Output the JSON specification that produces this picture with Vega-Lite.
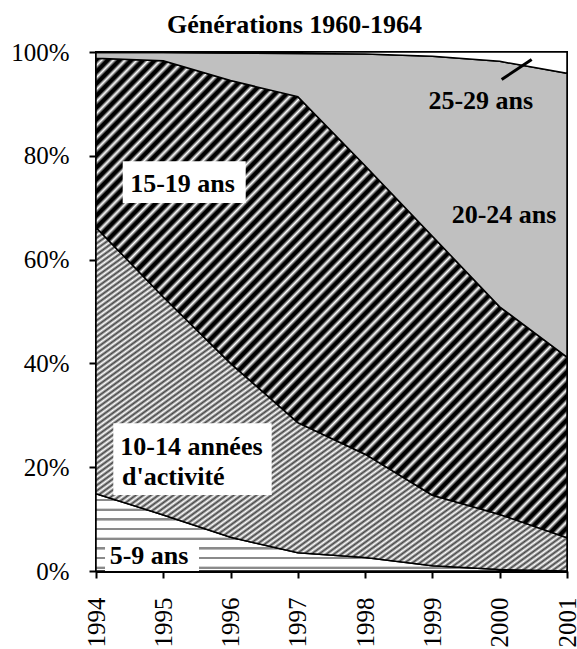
{
  "$schema": "https://vega.github.io/schema/vega-lite/v6.json",
  "width": 471,
  "height": 519,
  "autosize": {"type": "none"},
  "padding": {"left": 96, "top": 52, "right": 10, "bottom": 78},
  "background": "#ffffff",
  "title": {"text": "Générations 1960-1964", "font": "Liberation Serif", "fontSize": 26, "fontWeight": "bold", "color": "#000", "anchor": "middle", "dx": -37, "offset": -24, "baseline": "bottom"},
  "config": {
    "view": {"stroke": "#000", "strokeWidth": 2},
    "axis": {"labelFont": "Liberation Serif", "labelFontSize": 25, "labelColor": "#000", "domainColor": "#000", "tickColor": "#000", "grid": false}
  },
  "datasets": {
    "parts": [
      {"year": 1994, "group": "5-9 ans", "rang": 1, "share": 14.9},
      {"year": 1994, "group": "10-14 ans", "rang": 2, "share": 51.3},
      {"year": 1994, "group": "15-19 ans", "rang": 3, "share": 32.6},
      {"year": 1994, "group": "20-24 ans", "rang": 4, "share": 1.1},
      {"year": 1994, "group": "25-29 ans", "rang": 5, "share": 0.1},
      {"year": 1995, "group": "5-9 ans", "rang": 1, "share": 10.8},
      {"year": 1995, "group": "10-14 ans", "rang": 2, "share": 42.0},
      {"year": 1995, "group": "15-19 ans", "rang": 3, "share": 45.5},
      {"year": 1995, "group": "20-24 ans", "rang": 4, "share": 1.6},
      {"year": 1995, "group": "25-29 ans", "rang": 5, "share": 0.1},
      {"year": 1996, "group": "5-9 ans", "rang": 1, "share": 6.5},
      {"year": 1996, "group": "10-14 ans", "rang": 2, "share": 33.5},
      {"year": 1996, "group": "15-19 ans", "rang": 3, "share": 54.5},
      {"year": 1996, "group": "20-24 ans", "rang": 4, "share": 5.3},
      {"year": 1996, "group": "25-29 ans", "rang": 5, "share": 0.2},
      {"year": 1997, "group": "5-9 ans", "rang": 1, "share": 3.5},
      {"year": 1997, "group": "10-14 ans", "rang": 2, "share": 25.1},
      {"year": 1997, "group": "15-19 ans", "rang": 3, "share": 62.8},
      {"year": 1997, "group": "20-24 ans", "rang": 4, "share": 8.3},
      {"year": 1997, "group": "25-29 ans", "rang": 5, "share": 0.3},
      {"year": 1998, "group": "5-9 ans", "rang": 1, "share": 2.6},
      {"year": 1998, "group": "10-14 ans", "rang": 2, "share": 19.9},
      {"year": 1998, "group": "15-19 ans", "rang": 3, "share": 55.6},
      {"year": 1998, "group": "20-24 ans", "rang": 4, "share": 21.5},
      {"year": 1998, "group": "25-29 ans", "rang": 5, "share": 0.4},
      {"year": 1999, "group": "5-9 ans", "rang": 1, "share": 1.0},
      {"year": 1999, "group": "10-14 ans", "rang": 2, "share": 13.6},
      {"year": 1999, "group": "15-19 ans", "rang": 3, "share": 49.9},
      {"year": 1999, "group": "20-24 ans", "rang": 4, "share": 34.7},
      {"year": 1999, "group": "25-29 ans", "rang": 5, "share": 0.8},
      {"year": 2000, "group": "5-9 ans", "rang": 1, "share": 0.3},
      {"year": 2000, "group": "10-14 ans", "rang": 2, "share": 10.6},
      {"year": 2000, "group": "15-19 ans", "rang": 3, "share": 40.0},
      {"year": 2000, "group": "20-24 ans", "rang": 4, "share": 47.3},
      {"year": 2000, "group": "25-29 ans", "rang": 5, "share": 1.8},
      {"year": 2001, "group": "5-9 ans", "rang": 1, "share": 0.0},
      {"year": 2001, "group": "10-14 ans", "rang": 2, "share": 6.4},
      {"year": 2001, "group": "15-19 ans", "rang": 3, "share": 34.8},
      {"year": 2001, "group": "20-24 ans", "rang": 4, "share": 54.7},
      {"year": 2001, "group": "25-29 ans", "rang": 5, "share": 4.1}
    ],
    "boxes": [
      {"year": 1994.397, "year2": 1996.225, "v": 0.7894, "v2": 0.7092},
      {"year": 1994.257, "year2": 1996.611, "v": 0.2849, "v2": 0.1466},
      {"year": 1994.134, "year2": 1995.531, "v": 0.0534, "v2": 0.0}
    ],
    "labels": [
      {"year": 1995.286, "v": 0.7464, "label": "15-19 ans"},
      {"year": 1995.418, "v": 0.2397, "label": "10-14 années"},
      {"year": 1995.150, "v": 0.1819, "label": "d'activité"},
      {"year": 1994.788, "v": 0.0289, "label": "5-9 ans"},
      {"year": 2000.064, "v": 0.6866, "label": "20-24 ans"},
      {"year": 1999.719, "v": 0.9051, "label": "25-29 ans"}
    ],
    "leader": [
      {"year": 2000.029, "year2": 2000.475, "v": 0.947, "v2": 0.9855}
    ]
  },
  "encoding": {
    "x": {"field": "year", "type": "quantitative", "title": null,
      "scale": {"domain": [1994, 2001], "nice": false, "zero": false},
      "axis": {"values": [1994, 1995, 1996, 1997, 1998, 1999, 2000, 2001], "format": "d", "labelAngle": -90, "labelAlign": "right", "labelBaseline": "middle", "tickSize": 7, "tickWidth": 2, "labelPadding": 19, "domainWidth": 3, "labelFlush": false, "labelOverlap": false}},
    "y": {"field": "v", "type": "quantitative", "title": null,
      "scale": {"domain": [0, 1], "nice": false},
      "axis": {"values": [0, 0.2, 0.4, 0.6, 0.8, 1], "format": ".0%", "tickSize": 7, "tickWidth": 2, "labelPadding": 20, "domainWidth": 2, "labelFlush": false}}
  },
  "layer": [
    {
      "data": {"name": "parts"},
      "transform": [
        {"stack": "share", "groupby": ["year"], "sort": [{"field": "rang", "order": "ascending"}], "as": ["v", "v2"], "offset": "normalize"},
        {"filter": "datum.group === '5-9 ans'"}
      ],
      "mark": {"type": "area", "stroke": "#000", "strokeWidth": 1.5, "fill": {"gradient": "linear", "x1": 0, "y1": 0, "x2": 0, "y2": 1, "stops": [
        {"offset": 0, "color": "#fff"}, {"offset": 0.065, "color": "#fff"}, {"offset": 0.07, "color": "#8a8a8a"}, {"offset": 0.095, "color": "#8a8a8a"}, {"offset": 0.1, "color": "#fff"},
        {"offset": 0.125, "color": "#fff"}, {"offset": 0.19, "color": "#fff"}, {"offset": 0.195, "color": "#8a8a8a"}, {"offset": 0.22, "color": "#8a8a8a"}, {"offset": 0.225, "color": "#fff"},
        {"offset": 0.25, "color": "#fff"}, {"offset": 0.315, "color": "#fff"}, {"offset": 0.32, "color": "#8a8a8a"}, {"offset": 0.345, "color": "#8a8a8a"}, {"offset": 0.35, "color": "#fff"},
        {"offset": 0.375, "color": "#fff"}, {"offset": 0.44, "color": "#fff"}, {"offset": 0.445, "color": "#8a8a8a"}, {"offset": 0.47, "color": "#8a8a8a"}, {"offset": 0.475, "color": "#fff"},
        {"offset": 0.5, "color": "#fff"}, {"offset": 0.565, "color": "#fff"}, {"offset": 0.57, "color": "#8a8a8a"}, {"offset": 0.595, "color": "#8a8a8a"}, {"offset": 0.6, "color": "#fff"},
        {"offset": 0.625, "color": "#fff"}, {"offset": 0.69, "color": "#fff"}, {"offset": 0.695, "color": "#8a8a8a"}, {"offset": 0.72, "color": "#8a8a8a"}, {"offset": 0.725, "color": "#fff"},
        {"offset": 0.75, "color": "#fff"}, {"offset": 0.815, "color": "#fff"}, {"offset": 0.82, "color": "#8a8a8a"}, {"offset": 0.845, "color": "#8a8a8a"}, {"offset": 0.85, "color": "#fff"},
        {"offset": 0.875, "color": "#fff"}, {"offset": 0.94, "color": "#fff"}, {"offset": 0.945, "color": "#8a8a8a"}, {"offset": 0.97, "color": "#8a8a8a"}, {"offset": 0.975, "color": "#fff"},
        {"offset": 1, "color": "#fff"}
      ]}},
      "encoding": {"y2": {"field": "v2"}}
    },
    {
      "data": {"name": "parts"},
      "transform": [
        {"stack": "share", "groupby": ["year"], "sort": [{"field": "rang", "order": "ascending"}], "as": ["v", "v2"], "offset": "normalize"},
        {"filter": "datum.group === '10-14 ans'"}
      ],
      "mark": {"type": "area", "stroke": "#000", "strokeWidth": 1.5, "fill": {"gradient": "linear", "x1": 0, "y1": 0, "x2": 1, "y2": 1, "stops": [
        {"offset": 0, "color": "#444"}, {"offset": 0.004, "color": "#fff"}, {"offset": 0.008, "color": "#444"}, {"offset": 0.012, "color": "#fff"}, {"offset": 0.016, "color": "#444"}, {"offset": 0.02, "color": "#fff"}, {"offset": 0.024, "color": "#444"}, {"offset": 0.028, "color": "#fff"}, {"offset": 0.032, "color": "#444"}, {"offset": 0.036, "color": "#fff"},
        {"offset": 0.04, "color": "#444"}, {"offset": 0.044, "color": "#fff"}, {"offset": 0.048, "color": "#444"}, {"offset": 0.052, "color": "#fff"}, {"offset": 0.056, "color": "#444"}, {"offset": 0.06, "color": "#fff"}, {"offset": 0.064, "color": "#444"}, {"offset": 0.068, "color": "#fff"}, {"offset": 0.072, "color": "#444"}, {"offset": 0.076, "color": "#fff"},
        {"offset": 0.08, "color": "#444"}, {"offset": 0.084, "color": "#fff"}, {"offset": 0.088, "color": "#444"}, {"offset": 0.092, "color": "#fff"}, {"offset": 0.096, "color": "#444"}, {"offset": 0.1, "color": "#fff"}, {"offset": 0.104, "color": "#444"}, {"offset": 0.108, "color": "#fff"}, {"offset": 0.112, "color": "#444"}, {"offset": 0.116, "color": "#fff"},
        {"offset": 0.12, "color": "#444"}, {"offset": 0.124, "color": "#fff"}, {"offset": 0.128, "color": "#444"}, {"offset": 0.132, "color": "#fff"}, {"offset": 0.136, "color": "#444"}, {"offset": 0.14, "color": "#fff"}, {"offset": 0.144, "color": "#444"}, {"offset": 0.148, "color": "#fff"}, {"offset": 0.152, "color": "#444"}, {"offset": 0.156, "color": "#fff"},
        {"offset": 0.16, "color": "#444"}, {"offset": 0.164, "color": "#fff"}, {"offset": 0.168, "color": "#444"}, {"offset": 0.172, "color": "#fff"}, {"offset": 0.176, "color": "#444"}, {"offset": 0.18, "color": "#fff"}, {"offset": 0.184, "color": "#444"}, {"offset": 0.188, "color": "#fff"}, {"offset": 0.192, "color": "#444"}, {"offset": 0.196, "color": "#fff"},
        {"offset": 0.2, "color": "#444"}, {"offset": 0.204, "color": "#fff"}, {"offset": 0.208, "color": "#444"}, {"offset": 0.212, "color": "#fff"}, {"offset": 0.216, "color": "#444"}, {"offset": 0.22, "color": "#fff"}, {"offset": 0.224, "color": "#444"}, {"offset": 0.228, "color": "#fff"}, {"offset": 0.232, "color": "#444"}, {"offset": 0.236, "color": "#fff"},
        {"offset": 0.24, "color": "#444"}, {"offset": 0.244, "color": "#fff"}, {"offset": 0.248, "color": "#444"}, {"offset": 0.252, "color": "#fff"}, {"offset": 0.256, "color": "#444"}, {"offset": 0.26, "color": "#fff"}, {"offset": 0.264, "color": "#444"}, {"offset": 0.268, "color": "#fff"}, {"offset": 0.272, "color": "#444"}, {"offset": 0.276, "color": "#fff"},
        {"offset": 0.28, "color": "#444"}, {"offset": 0.284, "color": "#fff"}, {"offset": 0.288, "color": "#444"}, {"offset": 0.292, "color": "#fff"}, {"offset": 0.296, "color": "#444"}, {"offset": 0.3, "color": "#fff"}, {"offset": 0.304, "color": "#444"}, {"offset": 0.308, "color": "#fff"}, {"offset": 0.312, "color": "#444"}, {"offset": 0.316, "color": "#fff"},
        {"offset": 0.32, "color": "#444"}, {"offset": 0.324, "color": "#fff"}, {"offset": 0.328, "color": "#444"}, {"offset": 0.332, "color": "#fff"}, {"offset": 0.336, "color": "#444"}, {"offset": 0.34, "color": "#fff"}, {"offset": 0.344, "color": "#444"}, {"offset": 0.348, "color": "#fff"}, {"offset": 0.352, "color": "#444"}, {"offset": 0.356, "color": "#fff"},
        {"offset": 0.36, "color": "#444"}, {"offset": 0.364, "color": "#fff"}, {"offset": 0.368, "color": "#444"}, {"offset": 0.372, "color": "#fff"}, {"offset": 0.376, "color": "#444"}, {"offset": 0.38, "color": "#fff"}, {"offset": 0.384, "color": "#444"}, {"offset": 0.388, "color": "#fff"}, {"offset": 0.392, "color": "#444"}, {"offset": 0.396, "color": "#fff"},
        {"offset": 0.4, "color": "#444"}, {"offset": 0.404, "color": "#fff"}, {"offset": 0.408, "color": "#444"}, {"offset": 0.412, "color": "#fff"}, {"offset": 0.416, "color": "#444"}, {"offset": 0.42, "color": "#fff"}, {"offset": 0.424, "color": "#444"}, {"offset": 0.428, "color": "#fff"}, {"offset": 0.432, "color": "#444"}, {"offset": 0.436, "color": "#fff"},
        {"offset": 0.44, "color": "#444"}, {"offset": 0.444, "color": "#fff"}, {"offset": 0.448, "color": "#444"}, {"offset": 0.452, "color": "#fff"}, {"offset": 0.456, "color": "#444"}, {"offset": 0.46, "color": "#fff"}, {"offset": 0.464, "color": "#444"}, {"offset": 0.468, "color": "#fff"}, {"offset": 0.472, "color": "#444"}, {"offset": 0.476, "color": "#fff"},
        {"offset": 0.48, "color": "#444"}, {"offset": 0.484, "color": "#fff"}, {"offset": 0.488, "color": "#444"}, {"offset": 0.492, "color": "#fff"}, {"offset": 0.496, "color": "#444"}, {"offset": 0.5, "color": "#fff"}, {"offset": 0.504, "color": "#444"}, {"offset": 0.508, "color": "#fff"}, {"offset": 0.512, "color": "#444"}, {"offset": 0.516, "color": "#fff"},
        {"offset": 0.52, "color": "#444"}, {"offset": 0.524, "color": "#fff"}, {"offset": 0.528, "color": "#444"}, {"offset": 0.532, "color": "#fff"}, {"offset": 0.536, "color": "#444"}, {"offset": 0.54, "color": "#fff"}, {"offset": 0.544, "color": "#444"}, {"offset": 0.548, "color": "#fff"}, {"offset": 0.552, "color": "#444"}, {"offset": 0.556, "color": "#fff"},
        {"offset": 0.56, "color": "#444"}, {"offset": 0.564, "color": "#fff"}, {"offset": 0.568, "color": "#444"}, {"offset": 0.572, "color": "#fff"}, {"offset": 0.576, "color": "#444"}, {"offset": 0.58, "color": "#fff"}, {"offset": 0.584, "color": "#444"}, {"offset": 0.588, "color": "#fff"}, {"offset": 0.592, "color": "#444"}, {"offset": 0.596, "color": "#fff"},
        {"offset": 0.6, "color": "#444"}, {"offset": 0.604, "color": "#fff"}, {"offset": 0.608, "color": "#444"}, {"offset": 0.612, "color": "#fff"}, {"offset": 0.616, "color": "#444"}, {"offset": 0.62, "color": "#fff"}, {"offset": 0.624, "color": "#444"}, {"offset": 0.628, "color": "#fff"}, {"offset": 0.632, "color": "#444"}, {"offset": 0.636, "color": "#fff"},
        {"offset": 0.64, "color": "#444"}, {"offset": 0.644, "color": "#fff"}, {"offset": 0.648, "color": "#444"}, {"offset": 0.652, "color": "#fff"}, {"offset": 0.656, "color": "#444"}, {"offset": 0.66, "color": "#fff"}, {"offset": 0.664, "color": "#444"}, {"offset": 0.668, "color": "#fff"}, {"offset": 0.672, "color": "#444"}, {"offset": 0.676, "color": "#fff"},
        {"offset": 0.68, "color": "#444"}, {"offset": 0.684, "color": "#fff"}, {"offset": 0.688, "color": "#444"}, {"offset": 0.692, "color": "#fff"}, {"offset": 0.696, "color": "#444"}, {"offset": 0.7, "color": "#fff"}, {"offset": 0.704, "color": "#444"}, {"offset": 0.708, "color": "#fff"}, {"offset": 0.712, "color": "#444"}, {"offset": 0.716, "color": "#fff"},
        {"offset": 0.72, "color": "#444"}, {"offset": 0.724, "color": "#fff"}, {"offset": 0.728, "color": "#444"}, {"offset": 0.732, "color": "#fff"}, {"offset": 0.736, "color": "#444"}, {"offset": 0.74, "color": "#fff"}, {"offset": 0.744, "color": "#444"}, {"offset": 0.748, "color": "#fff"}, {"offset": 0.752, "color": "#444"}, {"offset": 0.756, "color": "#fff"},
        {"offset": 0.76, "color": "#444"}, {"offset": 0.764, "color": "#fff"}, {"offset": 0.768, "color": "#444"}, {"offset": 0.772, "color": "#fff"}, {"offset": 0.776, "color": "#444"}, {"offset": 0.78, "color": "#fff"}, {"offset": 0.784, "color": "#444"}, {"offset": 0.788, "color": "#fff"}, {"offset": 0.792, "color": "#444"}, {"offset": 0.796, "color": "#fff"},
        {"offset": 0.8, "color": "#444"}, {"offset": 0.804, "color": "#fff"}, {"offset": 0.808, "color": "#444"}, {"offset": 0.812, "color": "#fff"}, {"offset": 0.816, "color": "#444"}, {"offset": 0.82, "color": "#fff"}, {"offset": 0.824, "color": "#444"}, {"offset": 0.828, "color": "#fff"}, {"offset": 0.832, "color": "#444"}, {"offset": 0.836, "color": "#fff"},
        {"offset": 0.84, "color": "#444"}, {"offset": 0.844, "color": "#fff"}, {"offset": 0.848, "color": "#444"}, {"offset": 0.852, "color": "#fff"}, {"offset": 0.856, "color": "#444"}, {"offset": 0.86, "color": "#fff"}, {"offset": 0.864, "color": "#444"}, {"offset": 0.868, "color": "#fff"}, {"offset": 0.872, "color": "#444"}, {"offset": 0.876, "color": "#fff"},
        {"offset": 0.88, "color": "#444"}, {"offset": 0.884, "color": "#fff"}, {"offset": 0.888, "color": "#444"}, {"offset": 0.892, "color": "#fff"}, {"offset": 0.896, "color": "#444"}, {"offset": 0.9, "color": "#fff"}, {"offset": 0.904, "color": "#444"}, {"offset": 0.908, "color": "#fff"}, {"offset": 0.912, "color": "#444"}, {"offset": 0.916, "color": "#fff"},
        {"offset": 0.92, "color": "#444"}, {"offset": 0.924, "color": "#fff"}, {"offset": 0.928, "color": "#444"}, {"offset": 0.932, "color": "#fff"}, {"offset": 0.936, "color": "#444"}, {"offset": 0.94, "color": "#fff"}, {"offset": 0.944, "color": "#444"}, {"offset": 0.948, "color": "#fff"}, {"offset": 0.952, "color": "#444"}, {"offset": 0.956, "color": "#fff"},
        {"offset": 0.96, "color": "#444"}, {"offset": 0.964, "color": "#fff"}, {"offset": 0.968, "color": "#444"}, {"offset": 0.972, "color": "#fff"}, {"offset": 0.976, "color": "#444"}, {"offset": 0.98, "color": "#fff"}, {"offset": 0.984, "color": "#444"}, {"offset": 0.988, "color": "#fff"}, {"offset": 0.992, "color": "#444"}, {"offset": 0.996, "color": "#fff"},
        {"offset": 1, "color": "#444"}
      ]}},
      "encoding": {"y2": {"field": "v2"}}
    },
    {
      "data": {"name": "parts"},
      "transform": [
        {"stack": "share", "groupby": ["year"], "sort": [{"field": "rang", "order": "ascending"}], "as": ["v", "v2"], "offset": "normalize"},
        {"filter": "datum.group === '15-19 ans'"}
      ],
      "mark": {"type": "area", "stroke": "#000", "strokeWidth": 1.5, "fill": {"gradient": "linear", "x1": 0, "y1": 0, "x2": 1, "y2": 1, "stops": [
        {"offset": 0, "color": "#000"}, {"offset": 0.004, "color": "#000"}, {"offset": 0.008, "color": "#fff"},
        {"offset": 0.0125, "color": "#000"}, {"offset": 0.0165, "color": "#000"}, {"offset": 0.0205, "color": "#fff"},
        {"offset": 0.025, "color": "#000"}, {"offset": 0.029, "color": "#000"}, {"offset": 0.033, "color": "#fff"},
        {"offset": 0.0375, "color": "#000"}, {"offset": 0.0415, "color": "#000"}, {"offset": 0.0455, "color": "#fff"},
        {"offset": 0.05, "color": "#000"}, {"offset": 0.054, "color": "#000"}, {"offset": 0.058, "color": "#fff"},
        {"offset": 0.0625, "color": "#000"}, {"offset": 0.0665, "color": "#000"}, {"offset": 0.0705, "color": "#fff"},
        {"offset": 0.075, "color": "#000"}, {"offset": 0.079, "color": "#000"}, {"offset": 0.083, "color": "#fff"},
        {"offset": 0.0875, "color": "#000"}, {"offset": 0.0915, "color": "#000"}, {"offset": 0.0955, "color": "#fff"},
        {"offset": 0.1, "color": "#000"}, {"offset": 0.104, "color": "#000"}, {"offset": 0.108, "color": "#fff"},
        {"offset": 0.1125, "color": "#000"}, {"offset": 0.1165, "color": "#000"}, {"offset": 0.1205, "color": "#fff"},
        {"offset": 0.125, "color": "#000"}, {"offset": 0.129, "color": "#000"}, {"offset": 0.133, "color": "#fff"},
        {"offset": 0.1375, "color": "#000"}, {"offset": 0.1415, "color": "#000"}, {"offset": 0.1455, "color": "#fff"},
        {"offset": 0.15, "color": "#000"}, {"offset": 0.154, "color": "#000"}, {"offset": 0.158, "color": "#fff"},
        {"offset": 0.1625, "color": "#000"}, {"offset": 0.1665, "color": "#000"}, {"offset": 0.1705, "color": "#fff"},
        {"offset": 0.175, "color": "#000"}, {"offset": 0.179, "color": "#000"}, {"offset": 0.183, "color": "#fff"},
        {"offset": 0.1875, "color": "#000"}, {"offset": 0.1915, "color": "#000"}, {"offset": 0.1955, "color": "#fff"},
        {"offset": 0.2, "color": "#000"}, {"offset": 0.204, "color": "#000"}, {"offset": 0.208, "color": "#fff"},
        {"offset": 0.2125, "color": "#000"}, {"offset": 0.2165, "color": "#000"}, {"offset": 0.2205, "color": "#fff"},
        {"offset": 0.225, "color": "#000"}, {"offset": 0.229, "color": "#000"}, {"offset": 0.233, "color": "#fff"},
        {"offset": 0.2375, "color": "#000"}, {"offset": 0.2415, "color": "#000"}, {"offset": 0.2455, "color": "#fff"},
        {"offset": 0.25, "color": "#000"}, {"offset": 0.254, "color": "#000"}, {"offset": 0.258, "color": "#fff"},
        {"offset": 0.2625, "color": "#000"}, {"offset": 0.2665, "color": "#000"}, {"offset": 0.2705, "color": "#fff"},
        {"offset": 0.275, "color": "#000"}, {"offset": 0.279, "color": "#000"}, {"offset": 0.283, "color": "#fff"},
        {"offset": 0.2875, "color": "#000"}, {"offset": 0.2915, "color": "#000"}, {"offset": 0.2955, "color": "#fff"},
        {"offset": 0.3, "color": "#000"}, {"offset": 0.304, "color": "#000"}, {"offset": 0.308, "color": "#fff"},
        {"offset": 0.3125, "color": "#000"}, {"offset": 0.3165, "color": "#000"}, {"offset": 0.3205, "color": "#fff"},
        {"offset": 0.325, "color": "#000"}, {"offset": 0.329, "color": "#000"}, {"offset": 0.333, "color": "#fff"},
        {"offset": 0.3375, "color": "#000"}, {"offset": 0.3415, "color": "#000"}, {"offset": 0.3455, "color": "#fff"},
        {"offset": 0.35, "color": "#000"}, {"offset": 0.354, "color": "#000"}, {"offset": 0.358, "color": "#fff"},
        {"offset": 0.3625, "color": "#000"}, {"offset": 0.3665, "color": "#000"}, {"offset": 0.3705, "color": "#fff"},
        {"offset": 0.375, "color": "#000"}, {"offset": 0.379, "color": "#000"}, {"offset": 0.383, "color": "#fff"},
        {"offset": 0.3875, "color": "#000"}, {"offset": 0.3915, "color": "#000"}, {"offset": 0.3955, "color": "#fff"},
        {"offset": 0.4, "color": "#000"}, {"offset": 0.404, "color": "#000"}, {"offset": 0.408, "color": "#fff"},
        {"offset": 0.4125, "color": "#000"}, {"offset": 0.4165, "color": "#000"}, {"offset": 0.4205, "color": "#fff"},
        {"offset": 0.425, "color": "#000"}, {"offset": 0.429, "color": "#000"}, {"offset": 0.433, "color": "#fff"},
        {"offset": 0.4375, "color": "#000"}, {"offset": 0.4415, "color": "#000"}, {"offset": 0.4455, "color": "#fff"},
        {"offset": 0.45, "color": "#000"}, {"offset": 0.454, "color": "#000"}, {"offset": 0.458, "color": "#fff"},
        {"offset": 0.4625, "color": "#000"}, {"offset": 0.4665, "color": "#000"}, {"offset": 0.4705, "color": "#fff"},
        {"offset": 0.475, "color": "#000"}, {"offset": 0.479, "color": "#000"}, {"offset": 0.483, "color": "#fff"},
        {"offset": 0.4875, "color": "#000"}, {"offset": 0.4915, "color": "#000"}, {"offset": 0.4955, "color": "#fff"},
        {"offset": 0.5, "color": "#000"}, {"offset": 0.504, "color": "#000"}, {"offset": 0.508, "color": "#fff"},
        {"offset": 0.5125, "color": "#000"}, {"offset": 0.5165, "color": "#000"}, {"offset": 0.5205, "color": "#fff"},
        {"offset": 0.525, "color": "#000"}, {"offset": 0.529, "color": "#000"}, {"offset": 0.533, "color": "#fff"},
        {"offset": 0.5375, "color": "#000"}, {"offset": 0.5415, "color": "#000"}, {"offset": 0.5455, "color": "#fff"},
        {"offset": 0.55, "color": "#000"}, {"offset": 0.554, "color": "#000"}, {"offset": 0.558, "color": "#fff"},
        {"offset": 0.5625, "color": "#000"}, {"offset": 0.5665, "color": "#000"}, {"offset": 0.5705, "color": "#fff"},
        {"offset": 0.575, "color": "#000"}, {"offset": 0.579, "color": "#000"}, {"offset": 0.583, "color": "#fff"},
        {"offset": 0.5875, "color": "#000"}, {"offset": 0.5915, "color": "#000"}, {"offset": 0.5955, "color": "#fff"},
        {"offset": 0.6, "color": "#000"}, {"offset": 0.604, "color": "#000"}, {"offset": 0.608, "color": "#fff"},
        {"offset": 0.6125, "color": "#000"}, {"offset": 0.6165, "color": "#000"}, {"offset": 0.6205, "color": "#fff"},
        {"offset": 0.625, "color": "#000"}, {"offset": 0.629, "color": "#000"}, {"offset": 0.633, "color": "#fff"},
        {"offset": 0.6375, "color": "#000"}, {"offset": 0.6415, "color": "#000"}, {"offset": 0.6455, "color": "#fff"},
        {"offset": 0.65, "color": "#000"}, {"offset": 0.654, "color": "#000"}, {"offset": 0.658, "color": "#fff"},
        {"offset": 0.6625, "color": "#000"}, {"offset": 0.6665, "color": "#000"}, {"offset": 0.6705, "color": "#fff"},
        {"offset": 0.675, "color": "#000"}, {"offset": 0.679, "color": "#000"}, {"offset": 0.683, "color": "#fff"},
        {"offset": 0.6875, "color": "#000"}, {"offset": 0.6915, "color": "#000"}, {"offset": 0.6955, "color": "#fff"},
        {"offset": 0.7, "color": "#000"}, {"offset": 0.704, "color": "#000"}, {"offset": 0.708, "color": "#fff"},
        {"offset": 0.7125, "color": "#000"}, {"offset": 0.7165, "color": "#000"}, {"offset": 0.7205, "color": "#fff"},
        {"offset": 0.725, "color": "#000"}, {"offset": 0.729, "color": "#000"}, {"offset": 0.733, "color": "#fff"},
        {"offset": 0.7375, "color": "#000"}, {"offset": 0.7415, "color": "#000"}, {"offset": 0.7455, "color": "#fff"},
        {"offset": 0.75, "color": "#000"}, {"offset": 0.754, "color": "#000"}, {"offset": 0.758, "color": "#fff"},
        {"offset": 0.7625, "color": "#000"}, {"offset": 0.7665, "color": "#000"}, {"offset": 0.7705, "color": "#fff"},
        {"offset": 0.775, "color": "#000"}, {"offset": 0.779, "color": "#000"}, {"offset": 0.783, "color": "#fff"},
        {"offset": 0.7875, "color": "#000"}, {"offset": 0.7915, "color": "#000"}, {"offset": 0.7955, "color": "#fff"},
        {"offset": 0.8, "color": "#000"}, {"offset": 0.804, "color": "#000"}, {"offset": 0.808, "color": "#fff"},
        {"offset": 0.8125, "color": "#000"}, {"offset": 0.8165, "color": "#000"}, {"offset": 0.8205, "color": "#fff"},
        {"offset": 0.825, "color": "#000"}, {"offset": 0.829, "color": "#000"}, {"offset": 0.833, "color": "#fff"},
        {"offset": 0.8375, "color": "#000"}, {"offset": 0.8415, "color": "#000"}, {"offset": 0.8455, "color": "#fff"},
        {"offset": 0.85, "color": "#000"}, {"offset": 0.854, "color": "#000"}, {"offset": 0.858, "color": "#fff"},
        {"offset": 0.8625, "color": "#000"}, {"offset": 0.8665, "color": "#000"}, {"offset": 0.8705, "color": "#fff"},
        {"offset": 0.875, "color": "#000"}, {"offset": 0.879, "color": "#000"}, {"offset": 0.883, "color": "#fff"},
        {"offset": 0.8875, "color": "#000"}, {"offset": 0.8915, "color": "#000"}, {"offset": 0.8955, "color": "#fff"},
        {"offset": 0.9, "color": "#000"}, {"offset": 0.904, "color": "#000"}, {"offset": 0.908, "color": "#fff"},
        {"offset": 0.9125, "color": "#000"}, {"offset": 0.9165, "color": "#000"}, {"offset": 0.9205, "color": "#fff"},
        {"offset": 0.925, "color": "#000"}, {"offset": 0.929, "color": "#000"}, {"offset": 0.933, "color": "#fff"},
        {"offset": 0.9375, "color": "#000"}, {"offset": 0.9415, "color": "#000"}, {"offset": 0.9455, "color": "#fff"},
        {"offset": 0.95, "color": "#000"}, {"offset": 0.954, "color": "#000"}, {"offset": 0.958, "color": "#fff"},
        {"offset": 0.9625, "color": "#000"}, {"offset": 0.9665, "color": "#000"}, {"offset": 0.9705, "color": "#fff"},
        {"offset": 0.975, "color": "#000"}, {"offset": 0.979, "color": "#000"}, {"offset": 0.983, "color": "#fff"},
        {"offset": 0.9875, "color": "#000"}, {"offset": 0.9915, "color": "#000"}, {"offset": 0.9955, "color": "#fff"},
        {"offset": 1, "color": "#000"}
      ]}},
      "encoding": {"y2": {"field": "v2"}}
    },
    {
      "data": {"name": "parts"},
      "transform": [
        {"stack": "share", "groupby": ["year"], "sort": [{"field": "rang", "order": "ascending"}], "as": ["v", "v2"], "offset": "normalize"},
        {"filter": "datum.group === '20-24 ans'"}
      ],
      "mark": {"type": "area", "fill": "#c0c0c0", "stroke": "#000", "strokeWidth": 1.5},
      "encoding": {"y2": {"field": "v2"}}
    },
    {
      "data": {"name": "parts"},
      "transform": [
        {"stack": "share", "groupby": ["year"], "sort": [{"field": "rang", "order": "ascending"}], "as": ["v", "v2"], "offset": "normalize"},
        {"filter": "datum.group === '25-29 ans'"}
      ],
      "mark": {"type": "area", "fill": "#ffffff", "stroke": "#000", "strokeWidth": 1.5},
      "encoding": {"y2": {"field": "v2"}}
    },
    {
      "data": {"name": "boxes"},
      "mark": {"type": "rect", "fill": "#ffffff", "strokeWidth": 0},
      "encoding": {"x2": {"field": "year2"}, "y2": {"field": "v2"}}
    },
    {
      "data": {"name": "labels"},
      "mark": {"type": "text", "font": "Liberation Serif", "fontSize": 26, "fontWeight": "bold", "color": "#000", "align": "center", "baseline": "middle"},
      "encoding": {"text": {"field": "label"}}
    },
    {
      "data": {"name": "leader"},
      "mark": {"type": "rule", "color": "#000", "strokeWidth": 3},
      "encoding": {"x2": {"field": "year2"}, "y2": {"field": "v2"}}
    }
  ]
}
